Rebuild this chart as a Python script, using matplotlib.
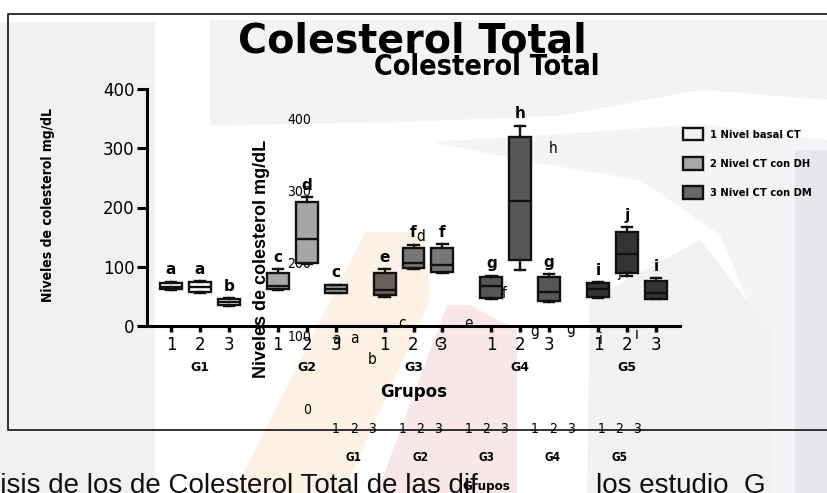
import matplotlib
matplotlib.use("Agg")
import matplotlib.pyplot as plt
from matplotlib import font_manager as fm
from matplotlib.font_manager import FontProperties
from matplotlib.patches import Patch, Polygon

W, H = 828, 493

# Data: five groups, three measurements each (basal, DH, DM)
groups = ["G1", "G2", "G3", "G4", "G5"]
levels = ["1", "2", "3"]
legend_labels = ["1 Nivel basal CT", "2 Nivel CT con DH", "3 Nivel CT con DM"]
whislo = [60, 56, 33, 60, 104, 55, 49, 96, 89, 46, 94, 41, 47, 85, 45]
q1 = [62, 58, 35, 62, 106, 56, 52, 98, 91, 47, 111, 42, 49, 89, 46]
med = [66, 66, 40, 68, 147, 62, 61, 106, 103, 68, 211, 58, 62, 121, 56]
q3 = [73, 74, 46, 89, 210, 69, 89, 132, 132, 83, 319, 83, 72, 159, 76]
whishi = [75, 76, 47, 96, 217, 70, 96, 137, 138, 85, 338, 88, 74, 167, 81]
letters = ["a", "a", "b", "c", "d", "c", "e", "f", "f", "g", "h", "g", "i", "j", "i"]
y_ticks = [0, 100, 200, 300, 400]

box_colors = (["#ffffff"] * 3 + ["#a6a6a6"] * 3 + ["#6d6157", "#777777", "#777777"]
              + ["#575757"] * 3 + ["#343434"] * 3)
legend_colors = ["#f2f2f2", "#a8a8a8", "#686868"]

positions = [g * 3.69 + i for g in range(len(groups)) for i in range(len(levels))]
xlim = (positions[0] - 0.83, positions[-1] + 0.83)

ARIAL = "Liberation Sans"


def find_condensed(bold):
    # any installed narrow/condensed face, regular or bold
    for f in fm.fontManager.ttflist:
        low = f.fname.lower()
        if ("narrow" in low or "condensed" in low) and not ("italic" in low or "oblique" in low):
            wt = f.weight if isinstance(f.weight, int) else (700 if "bold" in str(f.weight) else 400)
            if (wt >= 600) == bold:
                return f.fname
    return None


COND = {False: find_condensed(False), True: find_condensed(True)}


def narrow(size, bold=False):
    path = COND[bold]
    if path:
        return FontProperties(fname=path, size=size)
    return FontProperties(family=ARIAL, weight="bold" if bold else "normal", size=size * 0.95)


def fx(px):
    return px / W


def fy(py):
    return 1 - py / H


fig = plt.figure(figsize=(W / 100, H / 100), dpi=100)

# pale watermark shapes and page frame, in pixel coordinates
bg = fig.add_axes([0, 0, 1, 1])
bg.set_xlim(0, W)
bg.set_ylim(H, 0)
bg.axis("off")
shapes = [
    ([(0, 22), (155, 22), (155, 493), (0, 493)], "#f1f1f3"),
    ([(210, 20), (828, 20), (828, 100), (700, 90), (560, 116), (400, 122), (210, 126)], "#f3f3f5"),
    ([(430, 142), (560, 134), (700, 124), (828, 140), (828, 493), (770, 493),
      (760, 330), (720, 235), (640, 180), (520, 160)], "#f4f4f7"),
    ([(590, 300), (700, 240), (770, 330), (770, 493), (587, 493)], "#f1f1f4"),
    ([(795, 150), (828, 150), (828, 493), (795, 493)], "#e6e6ec"),
    ([(233, 493), (343, 493), (430, 300), (425, 232), (365, 232)], "#fdf1e5"),
    ([(377, 493), (517, 493), (517, 330), (470, 305), (447, 305)], "#f9e6e8"),
]
for pts, col in shapes:
    bg.add_patch(Polygon(pts, closed=True, facecolor=col, lw=0))
bg.plot([828, 8, 8, 828], [14, 14, 430, 430], color="#222222", lw=1.3)
bg.text(-6, 473, "lisis de los de Colesterol Total de las dif", va="top", ha="left",
        fontsize=20, family=ARIAL, color="#111111")
bg.text(596, 473, "los estudio  G", va="top", ha="left",
        fontsize=20, family=ARIAL, color="#111111")

# second, narrower copy of the chart text layer
gax = fig.add_axes([fx(321), fy(408), (652 - 321) / W, (408 - 118) / H])
gax.patch.set_visible(False)
for s in gax.spines.values():
    s.set_visible(False)
gax.set_xlim(*xlim)
gax.set_ylim(0, 400)
gax.set_yticks(y_ticks, [str(t) for t in y_ticks])
gax.set_xticks(positions, levels * len(groups))
for t in gax.get_yticklabels():
    t.set_fontproperties(narrow(10))
for t in gax.get_xticklabels():
    t.set_fontproperties(narrow(10))
gax.tick_params(axis="y", length=0, pad=7)
gax.tick_params(axis="x", length=0, pad=10)
for x, top, lab in zip(positions, whishi, letters):
    gax.text(x, top + 20, lab, ha="center", va="center", fontproperties=narrow(11))
for g, name in enumerate(groups):
    gax.text(positions[3 * g + 1], -0.172, name, transform=gax.get_xaxis_transform(),
             ha="center", va="center", fontproperties=narrow(8.5, True))
gax.text(0.5, -0.272, "Grupos", transform=gax.transAxes, ha="center", va="center",
         fontproperties=narrow(9.5, True))
gax.text(0.5, 1.148, "Colesterol Total", transform=gax.transAxes, ha="center",
         va="baseline", fontproperties=narrow(20.5, True))
gax.text(-59 / 331, 0.514, "Niveles de colesterol mg/dL", transform=gax.transAxes,
         rotation=90, ha="center", va="center", family=ARIAL, fontweight="bold", fontsize=13)

# main box plot
ax = fig.add_axes([fx(147), fy(326), (680 - 147) / W, (326 - 89) / H])
ax.patch.set_visible(False)
stats = [dict(whislo=a, q1=b, med=c, q3=d, whishi=e, fliers=[])
         for a, b, c, d, e in zip(whislo, q1, med, q3, whishi)]
line = dict(color="#111111", lw=1.7)
bp = ax.bxp(stats, positions=positions, widths=0.76, capwidths=0.36, patch_artist=True,
            showfliers=False, manage_ticks=False,
            boxprops=dict(edgecolor="#111111", lw=1.7), medianprops=line,
            whiskerprops=line, capprops=line)
for patch, c in zip(bp["boxes"], box_colors):
    patch.set_facecolor(c)

for x, top, lab in zip(positions, whishi, letters):
    ax.text(x, top + 20, lab, ha="center", va="center", fontsize=11,
            fontweight="bold", clip_on=False)

ax.set_xlim(*xlim)
ax.set_ylim(0, 400)
ax.spines[["top", "right"]].set_visible(False)
for s in ["left", "bottom"]:
    ax.spines[s].set_linewidth(2.2)
ax.set_yticks(y_ticks, [str(t) for t in y_ticks], fontsize=12)
ax.set_xticks(positions, levels * len(groups), fontsize=12)
ax.tick_params(axis="y", length=7, width=2.2, pad=2)
ax.tick_params(axis="x", length=4, width=2.5, pad=3)

for g, name in enumerate(groups):
    ax.text(positions[3 * g + 1], -0.173, name, transform=ax.get_xaxis_transform(),
            ha="center", va="center", fontsize=9, fontweight="bold")
ax.text(0.5, -0.278, "Grupos", transform=ax.transAxes, ha="center", va="center",
        fontsize=12, fontweight="bold")
ax.text(0.497, 1.152, "Colesterol Total", transform=ax.transAxes, ha="center",
        va="baseline", fontsize=28.5, fontweight="bold")
ax.text(-99 / 533, 0.51, "Niveles de colesterol mg/dL", transform=ax.transAxes,
        rotation=90, ha="center", va="center", fontproperties=narrow(10, True))

handles = [Patch(facecolor=c, edgecolor="#111111", lw=1.7) for c in legend_colors]
ax.legend(handles, legend_labels, loc="upper left", bbox_to_anchor=(fx(683), fy(128)),
          bbox_transform=fig.transFigure, frameon=False, prop=narrow(8, True),
          handlelength=1.8, handleheight=1.35, labelspacing=1.5, handletextpad=0.65,
          borderaxespad=0, borderpad=0)

fig.savefig("out.png", dpi=100)
